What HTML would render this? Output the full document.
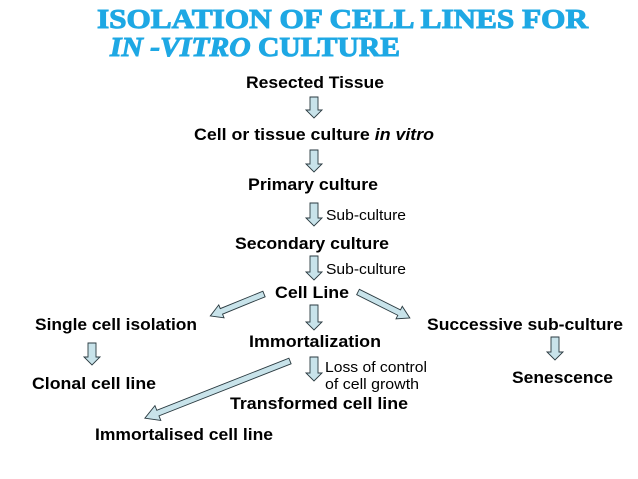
<!DOCTYPE html>
<html><head><meta charset="utf-8"><style>
html,body{margin:0;padding:0;background:#fff;}
svg{display:block;}
.t{font-family:"Liberation Sans",Arial,sans-serif;font-weight:bold;font-size:17px;fill:#000;}
.s{font-family:"Liberation Sans",Arial,sans-serif;font-size:15px;fill:#000;}
.h{font-family:"Liberation Serif",serif;font-weight:bold;font-size:27px;fill:#1ea8e4;stroke:#1ea8e4;stroke-width:1;}
.a{fill:#c8e3ea;stroke:#2a3a40;stroke-width:0.9;}
</style></head><body>
<svg width="638" height="479" viewBox="0 0 638 479" xmlns="http://www.w3.org/2000/svg">
<text class="h" x="97" y="28" textLength="491" lengthAdjust="spacingAndGlyphs">ISOLATION  OF  CELL  LINES  FOR</text>
<text class="h" x="110" y="56" textLength="290" lengthAdjust="spacingAndGlyphs"><tspan font-style="italic">IN -VITRO</tspan>  CULTURE</text>

<text class="t" x="315" y="88" text-anchor="middle" textLength="138" lengthAdjust="spacingAndGlyphs">Resected Tissue</text>
<text class="t" x="314" y="140" text-anchor="middle" textLength="240" lengthAdjust="spacingAndGlyphs">Cell or tissue culture <tspan font-style="italic">in vitro</tspan></text>
<text class="t" x="313" y="190" text-anchor="middle" textLength="130" lengthAdjust="spacingAndGlyphs">Primary culture</text>
<text class="s" x="326" y="220" textLength="80" lengthAdjust="spacingAndGlyphs">Sub-culture</text>
<text class="t" x="312" y="249" text-anchor="middle" textLength="154" lengthAdjust="spacingAndGlyphs">Secondary culture</text>
<text class="s" x="326" y="274" textLength="80" lengthAdjust="spacingAndGlyphs">Sub-culture</text>
<text class="t" x="312" y="298" text-anchor="middle" textLength="74" lengthAdjust="spacingAndGlyphs">Cell Line</text>
<text class="t" x="35" y="330" textLength="162" lengthAdjust="spacingAndGlyphs">Single cell isolation</text>
<text class="t" x="427" y="330" textLength="196" lengthAdjust="spacingAndGlyphs">Successive sub-culture</text>
<text class="t" x="315" y="347" text-anchor="middle" textLength="132" lengthAdjust="spacingAndGlyphs">Immortalization</text>
<text class="t" x="32" y="389" textLength="124" lengthAdjust="spacingAndGlyphs">Clonal cell line</text>
<text class="t" x="512" y="383" textLength="101" lengthAdjust="spacingAndGlyphs">Senescence</text>
<text class="s" x="325" y="372" textLength="102" lengthAdjust="spacingAndGlyphs">Loss of control</text>
<text class="s" x="325" y="389" textLength="94" lengthAdjust="spacingAndGlyphs">of cell growth</text>
<text class="t" x="319" y="409" text-anchor="middle" textLength="178" lengthAdjust="spacingAndGlyphs">Transformed cell line</text>
<text class="t" x="95" y="440" textLength="178" lengthAdjust="spacingAndGlyphs">Immortalised cell line</text>

<g class="a">
<polygon points="310,97 318,97 318,110 322,110 314,118 306,110 310,110"/>
<polygon points="310,150 318,150 318,164 322,164 314,172 306,164 310,164"/>
<polygon points="310,203 318,203 318,218 322,218 314,226 306,218 310,218"/>
<polygon points="310,256 318,256 318,272 322,272 314,280 306,272 310,272"/>
<polygon points="310,305 318,305 318,322 322,322 314,330 306,322 310,322"/>
<polygon points="310,357 318,357 318,373 322,373 314,381 306,373 310,373"/>
<polygon points="88,343 96,343 96,357 100,357 92,365 84,357 88,357"/>
<polygon points="551,337 559,337 559,352 563,352 555,360 547,352 551,352"/>
<polygon transform="translate(264,294) rotate(157.8)" points="0,-3 46,-3 46,-7 58,0 46,7 46,3 0,3"/>
<polygon transform="translate(358,292) rotate(26.6)" points="0,-3 46,-3 46,-7 58,0 46,7 46,3 0,3"/>
<polygon transform="translate(290,361) rotate(158.5)" points="0,-3 142,-3 142,-8 156,0 142,8 142,3 0,3"/>
</g>
</svg>
</body></html>
